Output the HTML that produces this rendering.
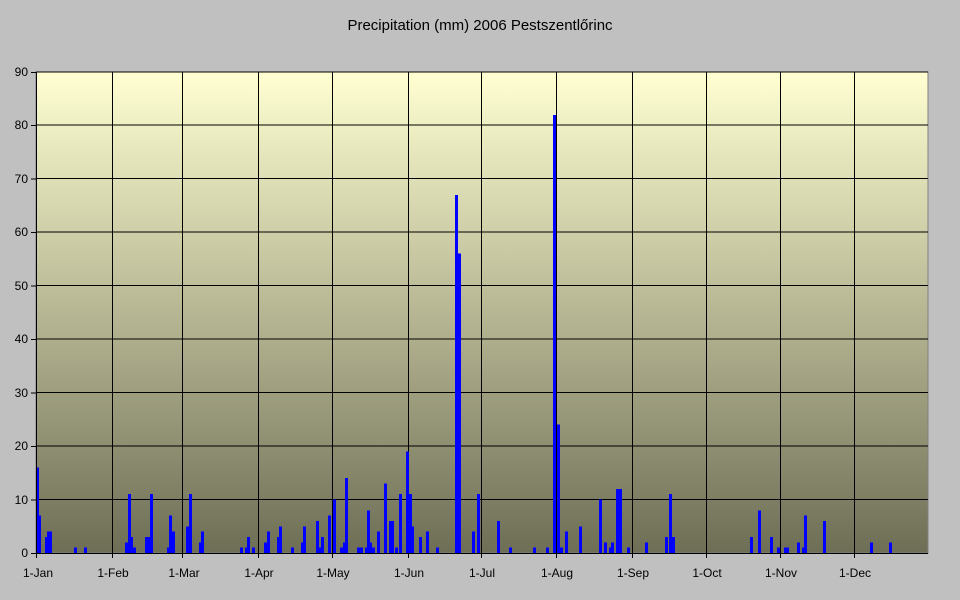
<!DOCTYPE html>
<html><head><meta charset="utf-8"><style>body{margin:0;background:#c0c0c0}</style></head><body>
<svg width="960" height="595" xmlns="http://www.w3.org/2000/svg" font-family="Liberation Sans, sans-serif">
<defs><linearGradient id="g" x1="0" y1="0" x2="0" y2="1"><stop offset="0" stop-color="#FFFFD2"/><stop offset="1" stop-color="#6E6E56"/></linearGradient></defs>
<rect width="960" height="595" fill="#c0c0c0"/>
<text x="480" y="30" text-anchor="middle" font-size="15" fill="#000">Precipitation (mm) 2006 Pestszentlőrinc</text>
<rect x="36" y="72" width="892" height="481" fill="url(#g)" stroke="#808080"/>
<g stroke="#000" stroke-width="1">
<path d="M36 499.5H928M36 446H928M36 392.5H928M36 339H928M36 285.5H928M36 232H928M36 178.5H928M36 125H928M36 72H928"/>
<path d="M112.5 72V553M182.5 72V553M258.5 72V553M332.5 72V553M408.5 72V553M481.5 72V553M556.5 72V553M632.5 72V553M706.5 72V553M780.5 72V553M854.5 72V553"/>
</g>
<g fill="#0000ff" shape-rendering="crispEdges">
<rect x="36" y="467.5" width="3" height="85.5"/>
<rect x="38" y="515.6" width="3" height="37.4"/>
<rect x="45" y="537" width="3" height="16"/>
<rect x="47" y="531.6" width="3" height="21.4"/>
<rect x="49" y="531.6" width="3" height="21.4"/>
<rect x="74" y="547.7" width="3" height="5.3"/>
<rect x="84" y="547.7" width="3" height="5.3"/>
<rect x="125" y="542.3" width="3" height="10.7"/>
<rect x="128" y="494.2" width="3" height="58.8"/>
<rect x="130" y="537" width="3" height="16"/>
<rect x="133" y="547.7" width="3" height="5.3"/>
<rect x="145" y="537" width="3" height="16"/>
<rect x="147" y="537" width="3" height="16"/>
<rect x="150" y="494.2" width="3" height="58.8"/>
<rect x="167" y="547.7" width="3" height="5.3"/>
<rect x="169" y="515.6" width="3" height="37.4"/>
<rect x="172" y="531.6" width="3" height="21.4"/>
<rect x="186" y="526.3" width="3" height="26.7"/>
<rect x="189" y="494.2" width="3" height="58.8"/>
<rect x="199" y="542.3" width="3" height="10.7"/>
<rect x="201" y="531.6" width="3" height="21.4"/>
<rect x="240" y="547.7" width="3" height="5.3"/>
<rect x="245" y="547.7" width="3" height="5.3"/>
<rect x="247" y="537" width="3" height="16"/>
<rect x="252" y="547.7" width="3" height="5.3"/>
<rect x="264" y="542.3" width="3" height="10.7"/>
<rect x="267" y="531.6" width="3" height="21.4"/>
<rect x="277" y="537" width="3" height="16"/>
<rect x="279" y="526.3" width="3" height="26.7"/>
<rect x="291" y="547.7" width="3" height="5.3"/>
<rect x="301" y="542.3" width="3" height="10.7"/>
<rect x="303" y="526.3" width="3" height="26.7"/>
<rect x="316" y="520.9" width="3" height="32.1"/>
<rect x="319" y="547.7" width="3" height="5.3"/>
<rect x="321" y="537" width="3" height="16"/>
<rect x="328" y="515.6" width="3" height="37.4"/>
<rect x="333" y="499.6" width="3" height="53.4"/>
<rect x="340" y="547.7" width="3" height="5.3"/>
<rect x="343" y="542.3" width="3" height="10.7"/>
<rect x="345" y="478.2" width="3" height="74.8"/>
<rect x="357" y="547.7" width="3" height="5.3"/>
<rect x="360" y="547.7" width="3" height="5.3"/>
<rect x="365" y="547.7" width="3" height="5.3"/>
<rect x="367" y="510.3" width="3" height="42.7"/>
<rect x="369" y="542.3" width="3" height="10.7"/>
<rect x="372" y="547.7" width="3" height="5.3"/>
<rect x="377" y="531.6" width="3" height="21.4"/>
<rect x="384" y="483.5" width="3" height="69.5"/>
<rect x="389" y="520.9" width="3" height="32.1"/>
<rect x="391" y="520.9" width="3" height="32.1"/>
<rect x="395" y="547.7" width="3" height="5.3"/>
<rect x="399" y="494.2" width="3" height="58.8"/>
<rect x="406" y="451.5" width="3" height="101.5"/>
<rect x="409" y="494.2" width="3" height="58.8"/>
<rect x="411" y="526.3" width="3" height="26.7"/>
<rect x="419" y="537" width="3" height="16"/>
<rect x="426" y="531.6" width="3" height="21.4"/>
<rect x="436" y="547.7" width="3" height="5.3"/>
<rect x="455" y="195" width="3" height="358"/>
<rect x="458" y="253.7" width="3" height="299.3"/>
<rect x="472" y="531.6" width="3" height="21.4"/>
<rect x="477" y="494.2" width="3" height="58.8"/>
<rect x="497" y="520.9" width="3" height="32.1"/>
<rect x="509" y="547.7" width="3" height="5.3"/>
<rect x="533" y="547.7" width="3" height="5.3"/>
<rect x="546" y="547.7" width="3" height="5.3"/>
<rect x="553" y="114.8" width="3" height="438.2"/>
<rect x="557" y="424.7" width="3" height="128.3"/>
<rect x="560" y="547.7" width="3" height="5.3"/>
<rect x="565" y="531.6" width="3" height="21.4"/>
<rect x="579" y="526.3" width="3" height="26.7"/>
<rect x="599" y="499.6" width="3" height="53.4"/>
<rect x="604" y="542.3" width="3" height="10.7"/>
<rect x="609" y="547.7" width="3" height="5.3"/>
<rect x="611" y="542.3" width="3" height="10.7"/>
<rect x="616" y="488.9" width="3" height="64.1"/>
<rect x="619" y="488.9" width="3" height="64.1"/>
<rect x="627" y="547.7" width="3" height="5.3"/>
<rect x="645" y="542.3" width="3" height="10.7"/>
<rect x="665" y="537" width="3" height="16"/>
<rect x="669" y="494.2" width="3" height="58.8"/>
<rect x="672" y="537" width="3" height="16"/>
<rect x="750" y="537" width="3" height="16"/>
<rect x="758" y="510.3" width="3" height="42.7"/>
<rect x="770" y="537" width="3" height="16"/>
<rect x="777" y="547.7" width="3" height="5.3"/>
<rect x="784" y="547.7" width="3" height="5.3"/>
<rect x="786" y="547.7" width="3" height="5.3"/>
<rect x="797" y="542.3" width="3" height="10.7"/>
<rect x="802" y="547.7" width="3" height="5.3"/>
<rect x="804" y="515.6" width="3" height="37.4"/>
<rect x="823" y="520.9" width="3" height="32.1"/>
<rect x="870" y="542.3" width="3" height="10.7"/>
<rect x="889" y="542.3" width="3" height="10.7"/>
</g>
<g stroke="#000" stroke-width="1">
<path d="M36.5 72V558M31 553.5H928M31 72.5H36M31 125.5H36M31 179H36M31 232.5H36M31 286H36M31 339.5H36M31 393H36M31 446.5H36M31 500H36"/>
<path d="M112.5 553V558M182.5 553V558M258.5 553V558M332.5 553V558M408.5 553V558M481.5 553V558M556.5 553V558M632.5 553V558M706.5 553V558M780.5 553V558M854.5 553V558"/>
</g>
<g font-size="12" fill="#000" text-anchor="end">
<text x="28" y="557">0</text><text x="28" y="504">10</text><text x="28" y="450">20</text><text x="28" y="397">30</text><text x="28" y="343">40</text><text x="28" y="290">50</text><text x="28" y="236">60</text><text x="28" y="183">70</text><text x="28" y="129">80</text><text x="28" y="76">90</text>
</g>
<g font-size="12" fill="#000" text-anchor="middle">
<text x="38" y="577">1-Jan</text><text x="113" y="577">1-Feb</text><text x="184" y="577">1-Mar</text><text x="259" y="577">1-Apr</text><text x="333" y="577">1-May</text><text x="409" y="577">1-Jun</text><text x="482" y="577">1-Jul</text><text x="557" y="577">1-Aug</text><text x="633" y="577">1-Sep</text><text x="707" y="577">1-Oct</text><text x="781" y="577">1-Nov</text><text x="855" y="577">1-Dec</text>
</g>
</svg>
</body></html>
